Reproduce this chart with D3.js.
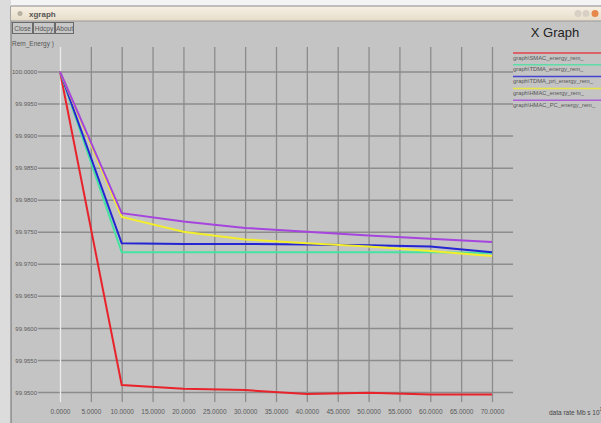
<!DOCTYPE html>
<html>
<head>
<meta charset="utf-8">
<script src="https://cdn.jsdelivr.net/npm/d3@7"></script>
<style>
  body { margin: 0; background: #c4c4c4; }
  svg { display: block; font-family: "Liberation Sans", Arial, sans-serif; }
  .tick text { fill: #5a5a5a; }
</style>
</head>
<body>
<svg id="chart" width="601" height="423"></svg>
<script>
// data rate (x), remaining energy per protocol
const rates = [0, 10, 20, 30, 40, 50, 60, 70];
const smac    = [100, 99.9511, 99.9505, 99.9503, 99.9497, 99.9499, 99.9496, 99.9496];
const tdma    = [100, 99.9718, 99.9718, 99.9718, 99.9718, 99.9718, 99.9718, 99.9717];
const tdmaPri = [100, 99.9732, 99.9731, 99.9731, 99.9730, 99.9729, 99.9727, 99.9718];
const hmac    = [100, 99.9773, 99.9750, 99.9738, 99.9732, 99.9727, 99.9720, 99.9712];
const hmacPc  = [100, 99.9779, 99.9766, 99.9756, 99.9750, 99.9744, 99.9739, 99.9734];

const seriesNames = ["graph\\SMAC_energy_rem_", "graph\\TDMA_energy_rem_", "graph\\TDMA_pri_energy_rem_",
                     "graph\\HMAC_energy_rem_", "graph\\HMAC_PC_energy_rem_"];
const seriesValues = [smac, tdma, tdmaPri, hmac, hmacPc];
const seriesColors = ["#e8232c", "#45e3a0", "#2424d2", "#f2ee2c", "#a545de"];

const xTicks = d3.range(0, 70.001, 5);
const yTicks = d3.range(0, 11).map(i => 99.95 + i * 0.005);

const svg = d3.select("#chart");

// window frame
svg.append("rect").attr("x", 0).attr("y", 0).attr("width", 601).attr("height", 423).attr("fill", "#c4c4c4");
svg.append("rect").attr("x", 0).attr("y", 0).attr("width", 601).attr("height", 6).attr("fill", "#f4f4f4");
svg.append("rect").attr("x", 0).attr("y", 0).attr("width", 11).attr("height", 423).attr("fill", "#dcdcdc");
svg.append("line").attr("x1", 11).attr("x2", 11).attr("y1", 6).attr("y2", 423).attr("stroke", "#6e6e6e");

const grad = svg.append("defs").append("linearGradient").attr("id", "tbar").attr("x1", 0).attr("x2", 0).attr("y1", 0).attr("y2", 1);
grad.append("stop").attr("offset", "0%").attr("stop-color", "#f7f1e6");
grad.append("stop").attr("offset", "100%").attr("stop-color", "#e6dcc8");
svg.append("rect").attr("x", 11).attr("y", 6).attr("width", 590).attr("height", 15).attr("fill", "url(#tbar)");
svg.append("line").attr("x1", 11).attr("x2", 601).attr("y1", 6).attr("y2", 6).attr("stroke", "#8a8a8a");
svg.append("line").attr("x1", 11).attr("x2", 601).attr("y1", 21).attr("y2", 21).attr("stroke", "#9a9a9a");
svg.append("circle").attr("cx", 20).attr("cy", 13.5).attr("r", 2.5).attr("fill", "#b8b0a0");
svg.append("text").attr("x", 29).attr("y", 16.5).attr("font-size", 8).attr("font-weight", "bold")
   .attr("fill", "#555").text("xgraph");
[[578, "#d8d0c4"], [586, "#d8d0c4"], [595, "#e8874a"]].forEach(([cx, c]) => {
  svg.append("circle").attr("cx", cx).attr("cy", 13.5).attr("r", 3.5).attr("fill", c);
});

// buttons
[["Close", 12, 20], ["Hdcpy", 33, 21], ["About", 55, 18]].forEach(([t, bx, bw]) => {
  svg.append("rect").attr("x", bx + 0.5).attr("y", 22.5).attr("width", bw).attr("height", 11)
     .attr("fill", "#c8c8c8").attr("stroke", "#6a6a6a");
  svg.append("text").attr("x", bx + bw / 2 + 0.5).attr("y", 31).attr("text-anchor", "middle")
     .attr("font-size", 6.5).attr("fill", "#555").text(t);
});
svg.append("text").attr("x", 12).attr("y", 46).attr("font-size", 6.5).attr("fill", "#555").text("Rem_Energy )");

// scales
const x = d3.scaleLinear().domain([0, 70]).range([60, 492]);
const y = d3.scaleLinear().domain([99.95, 100]).range([392, 71.5]);

const gridRight = 513, gridLeft = 38, gridTop = 47, gridBottom = 402;

// horizontal grid + y labels
const yAxis = svg.append("g").attr("transform", `translate(${gridLeft},0)`)
  .call(d3.axisLeft(y).tickValues(yTicks).tickFormat(d3.format(".4f")).tickSize(-(gridRight - gridLeft)).tickPadding(1));
yAxis.select(".domain").remove();
yAxis.selectAll(".tick line").attr("stroke", "#8c8c8c").attr("stroke-width", 1.5);
yAxis.selectAll(".tick text").attr("font-size", 6).attr("font-family", "Liberation Sans Narrow, Liberation Sans, Arial").attr("dy", "0.35em");

// vertical grid + x labels
const xAxis = svg.append("g").attr("transform", `translate(0,${gridBottom})`)
  .call(d3.axisBottom(x).tickValues(xTicks).tickFormat(d3.format(".4f")).tickSize(-(gridBottom - gridTop)).tickPadding(7));
xAxis.select(".domain").remove();
xAxis.selectAll(".tick line").attr("stroke", d => d === 0 ? "#ececec" : "#8c8c8c").attr("stroke-width", 1.3);
xAxis.selectAll(".tick text").attr("font-size", 6.5).attr("font-family", "Liberation Sans Narrow, Liberation Sans, Arial");

// series lines
const line = d3.line().x((d, i) => x(rates[i])).y(d => y(d));
seriesValues.forEach((vals, k) => {
  svg.append("path").datum(vals).attr("d", line).attr("fill", "none")
     .attr("stroke", seriesColors[k]).attr("stroke-width", 2);
});

// title and legend
svg.append("text").attr("x", 555).attr("y", 37).attr("text-anchor", "middle").attr("font-size", 13)
   .attr("fill", "#222").text("X Graph");
seriesNames.forEach((name, k) => {
  const ly = 53 + k * 11.8;
  svg.append("line").attr("x1", 513).attr("x2", 601).attr("y1", ly).attr("y2", ly)
     .attr("stroke", seriesColors[k]).attr("stroke-width", 1.5).attr("opacity", 0.8);
  svg.append("text").attr("x", 513).attr("y", ly + 6.5).attr("font-size", 5.8)
     .attr("font-family", "Liberation Sans Narrow, Liberation Sans, Arial").attr("fill", "#555").text(name);
});

// x axis unit label
const unit = svg.append("text").attr("x", 549).attr("y", 415).attr("font-size", 6.5)
   .attr("font-family", "Liberation Sans Narrow, Liberation Sans, Arial").attr("fill", "#444");
unit.append("tspan").text("data rate Mb s 10");
unit.append("tspan").attr("dy", -4).attr("font-size", 5).text("1");
</script>
</body>
</html>
